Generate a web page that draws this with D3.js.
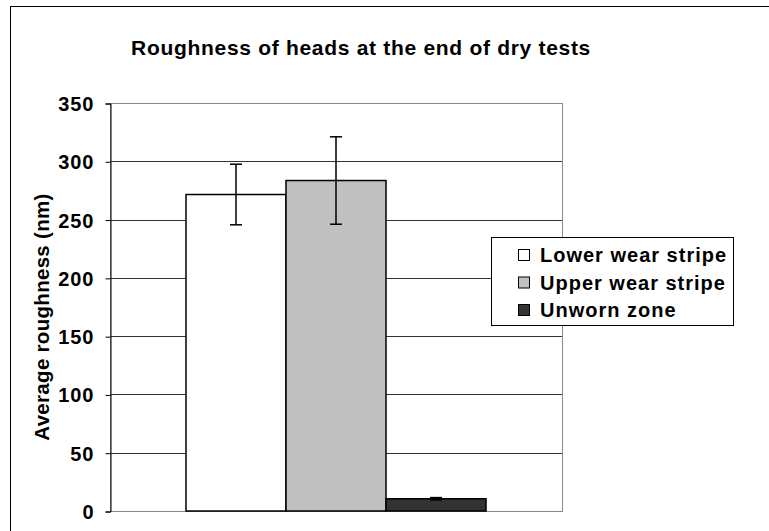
<!DOCTYPE html>
<html>
<head>
<meta charset="utf-8">
<script src="https://cdn.jsdelivr.net/npm/d3@7/dist/d3.min.js"></script>
<style>
  html, body { margin: 0; padding: 0; background: #fff; }
  svg { display: block; font-family: "Liberation Sans", Arial, sans-serif; font-weight: bold; }
</style>
</head>
<body>
<svg id="chart" width="769" height="531"></svg>
<script>
const title = "Roughness of heads at the end of dry tests";
const yLabel = "Average roughness (nm)";
const series = ["Lower wear stripe", "Upper wear stripe", "Unworn zone"];
const values = [271.5, 283.5, 10.5];
const errors = [26, 37.5, 1];
const colors = ["#ffffff", "#c0c0c0", "#333333"];
const yTicks = [0, 50, 100, 150, 200, 250, 300, 350];

const svg = d3.select("#chart");
const W = 769, H = 531;
const plot = { left: 110, right: 562, top: 103, bottom: 511 };

// outer chart border
svg.append("rect")
  .attr("x", 10.5).attr("y", 6.5).attr("width", 900).attr("height", 700)
  .attr("fill", "#fff").attr("stroke", "#000").attr("stroke-width", 1);

const x = d3.scaleBand().domain(series).range([plot.left, plot.right])
  .paddingInner(0).paddingOuter(0.76);
const y = d3.scaleLinear().domain([0, 350]).range([plot.bottom, plot.top]);

// gridlines
svg.append("g").selectAll("line").data(yTicks.filter(t => t > 0 && t < 350)).join("line")
  .attr("x1", plot.left).attr("x2", plot.right)
  .attr("y1", d => Math.round(y(d)) + 0.5).attr("y2", d => Math.round(y(d)) + 0.5)
  .attr("stroke", "#333").attr("stroke-width", 1);

// plot area border (gray)
svg.append("rect")
  .attr("x", plot.left + 0.5).attr("y", Math.round(y(350)) + 0.5)
  .attr("width", plot.right - plot.left).attr("height", Math.round(y(0)) - Math.round(y(350)))
  .attr("fill", "none").attr("stroke", "#888").attr("stroke-width", 1);

// bars
svg.append("g").selectAll("rect").data(series).join("rect")
  .attr("x", d => x(d)).attr("width", x.bandwidth())
  .attr("y", (d, i) => y(values[i])).attr("height", (d, i) => y(0) - y(values[i]))
  .attr("fill", (d, i) => colors[i]).attr("stroke", "#000").attr("stroke-width", 1.5);

// error bars
const eb = svg.append("g").attr("stroke", "#000").attr("stroke-width", 1.5);
series.forEach((s, i) => {
  const cx = x(s) + x.bandwidth() / 2;
  const hi = y(values[i] + errors[i]), lo = y(values[i] - errors[i]);
  eb.append("line").attr("x1", cx).attr("x2", cx).attr("y1", hi).attr("y2", lo);
  eb.append("line").attr("x1", cx - 6).attr("x2", cx + 6).attr("y1", hi).attr("y2", hi);
  eb.append("line").attr("x1", cx - 6).attr("x2", cx + 6).attr("y1", lo).attr("y2", lo);
});

// y axis
const yAxis = d3.axisLeft(y).tickValues(yTicks).tickSize(5).tickPadding(11).tickFormat(d3.format("d"));
const ga = svg.append("g").attr("transform", `translate(${plot.left + 0.5},0.5)`).call(yAxis);
ga.select(".domain").attr("stroke", "#000");
ga.selectAll(".tick line").attr("stroke", "#000");
ga.selectAll(".tick text")
  .attr("font-family", "Liberation Sans, Arial, sans-serif")
  .attr("font-weight", "bold").attr("font-size", 20).attr("fill", "#000")
  .attr("letter-spacing", 1).attr("dy", "0.35em");

// title
svg.append("text").attr("x", 361).attr("y", 55).attr("text-anchor", "middle")
  .attr("font-size", 21).attr("letter-spacing", 0.7).text(title);

// y label
svg.append("text").attr("transform", "translate(48.5,317) rotate(-90)")
  .attr("text-anchor", "middle").attr("font-size", 20.5).attr("letter-spacing", 0.3).text(yLabel);

// legend
const lg = svg.append("g");
lg.append("rect").attr("x", 491.5).attr("y", 237.5).attr("width", 242).attr("height", 88)
  .attr("fill", "#fff").attr("stroke", "#000").attr("stroke-width", 1);
series.forEach((s, i) => {
  const cy = 255 + i * 27.5;
  lg.append("rect").attr("x", 518.5).attr("y", cy - 5.5).attr("width", 11).attr("height", 11)
    .attr("fill", colors[i]).attr("stroke", "#000").attr("stroke-width", 1);
  lg.append("text").attr("x", 540).attr("y", cy + 7).attr("font-size", 20)
    .attr("letter-spacing", 1).text(s);
});
</script>
</body>
</html>
